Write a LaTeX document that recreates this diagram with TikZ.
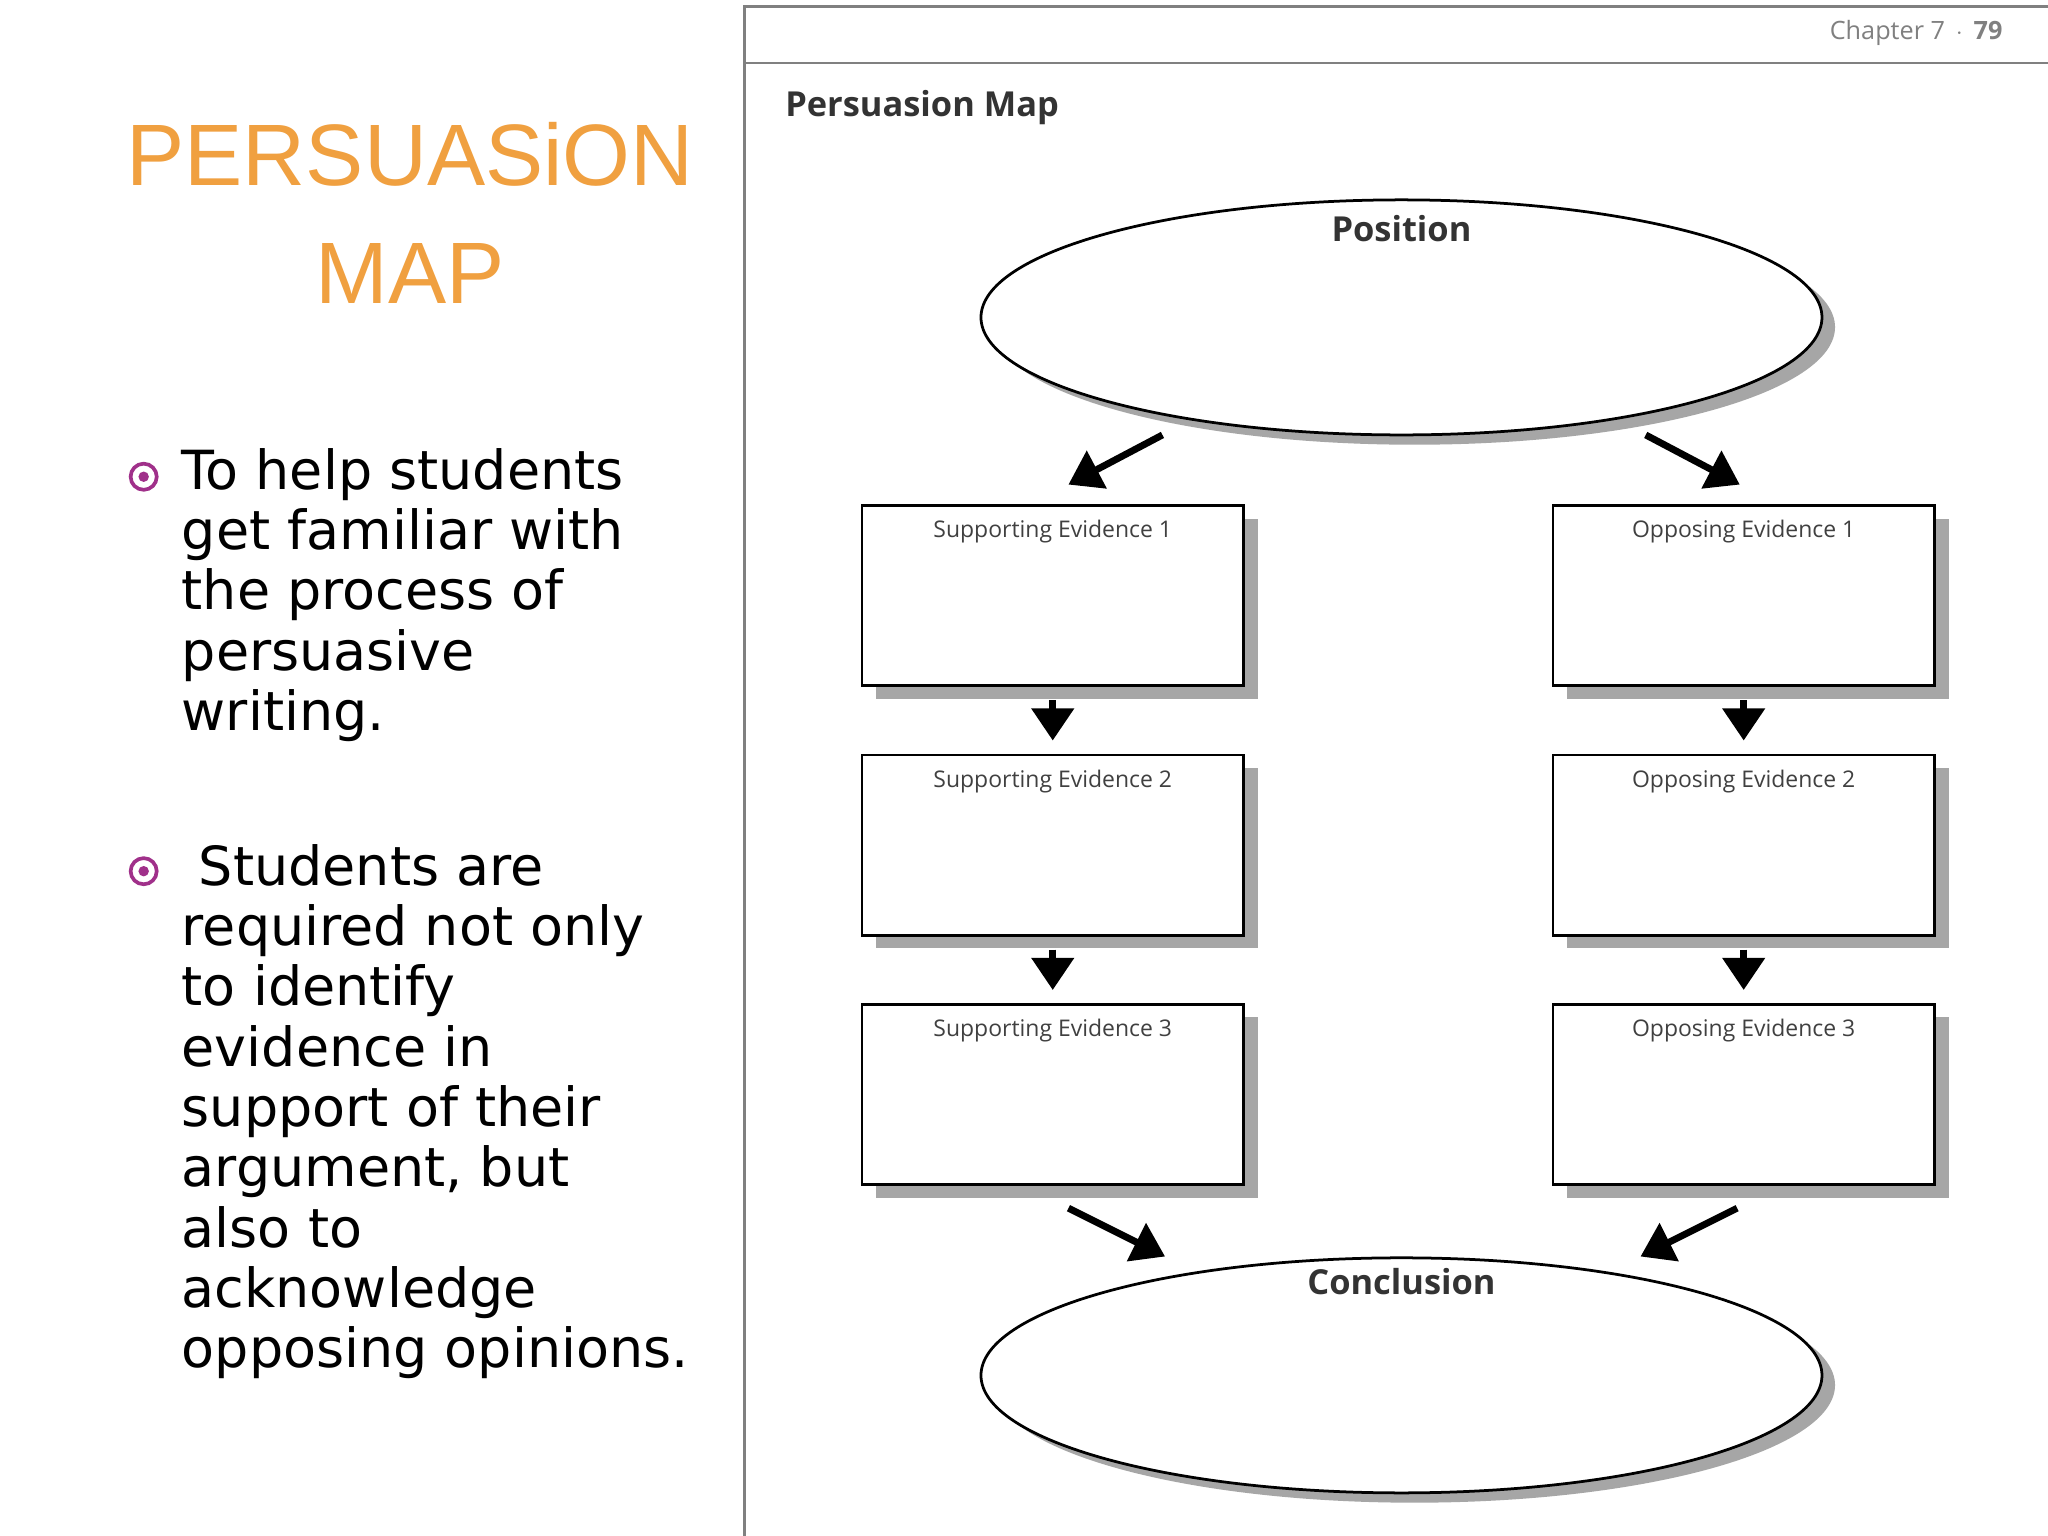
\documentclass[tikz,border=0pt]{standalone}
\usepackage{fontspec}
\setmainfont{DejaVu Sans}
\newfontfamily\titlefont{Liberation Sans}
\newfontfamily\mapfont{Open Sans}
\usetikzlibrary{arrows.meta,shadows,shapes.geometric}
\definecolor{bulletc}{HTML}{A0308A}
\definecolor{titleo}{HTML}{F0A040}
\begin{document}
\begin{tikzpicture}[x=0.02cm,y=-0.02cm,
  ev/.style={draw,line width=1.2pt,fill=white,minimum width=5.84cm,minimum height=2.76cm,inner sep=0pt,
    drop shadow={shadow xshift=0.22cm,shadow yshift=-0.2cm,fill=gray!70,opacity=1}},
  evlabel/.style={font=\mapfont\fontsize{10}{12}\selectfont,text=black!75},
  ell/.style={draw,line width=1.2pt,fill=white,ellipse,minimum width=12.88cm,minimum height=3.6cm,
    drop shadow={shadow xshift=0.2cm,shadow yshift=-0.15cm,fill=gray!70,opacity=1}},
  arr/.style={line width=3pt,-{Triangle[length=14pt,width=18pt]}},
  btext/.style={anchor=north west,align=left,font=\fontsize{23.5}{26.3}\selectfont},
  bul/.style={circle,draw=bulletc,line width=1.6pt,minimum size=0.4cm,inner sep=0pt,fill=white,
    path picture={\fill[bulletc] (path picture bounding box.center) circle (0.08cm);}}]
\useasboundingbox (0,0) rectangle (1568,1176);
\fill[white] (0,0) rectangle (1568,1176);
% title
\node[font=\titlefont\fontsize{38}{51}\selectfont,text=titleo,draw=none,align=center] (title) at (314,163) {PERSUAS\textsc{i}ON\\MAP};
% bullets
\node[bul] (b1) at (110,365) {};
\node[btext] (t1) at (133,337) {To help students\\get familiar with\\the process of\\persuasive\\writing.};
\node[bul] (b2) at (110,667) {};
\node[btext] (t2) at (133,640) {\ Students are\\required not only\\to identify\\evidence in\\support of their\\argument, but\\also to\\acknowledge\\opposing opinions.};
% panel
\draw[gray,line width=1pt] (570,1176) -- (570,5) -- (1568,5);
\draw[gray,line width=1pt] (570,48) -- (1568,48);
\node[font=\mapfont\fontsize{11}{13}\selectfont,text=gray] (chap) at (1467,25) {Chapter 7 \,$\cdot$\, \textbf{79}};
\node[font=\mapfont\bfseries\fontsize{15}{18}\selectfont,text=black!80,anchor=west] (pm) at (595,82) {Persuasion Map};
% ellipses
\node[ell] (pos) at (1073,243) {};
\node[font=\mapfont\bfseries\fontsize{15}{18}\selectfont,text=black!80] (posl) at (1073,175) {Position};
\node[ell] (con) at (1073,1053) {};
\node[font=\mapfont\bfseries\fontsize{15}{18}\selectfont,text=black!80] (conl) at (1073,981) {Conclusion};
% boxes
\foreach \n/\y/\k in {1/456/1,2/647/2,3/838/3}{
  \node[ev] (s\n) at (806,\y) {};
  \node[evlabel] at (806,\y-49) {Supporting Evidence \k};
  \node[ev] (o\n) at (1335,\y) {};
  \node[evlabel] at (1335,\y-49) {Opposing Evidence \k};
}
% arrows
\coordinate (p1) at (890,333); \coordinate (p2) at (818,371);
\coordinate (p3) at (1260,333); \coordinate (p4) at (1332,371);
\draw[arr] (p1) -- (p2);
\draw[arr] (p3) -- (p4);
\draw[arr] ([yshift=-0.2cm]s1.south) -- ([yshift=0.2cm]s2.north);
\draw[arr] ([yshift=-0.2cm]s2.south) -- ([yshift=0.2cm]s3.north);
\draw[arr] ([yshift=-0.2cm]o1.south) -- ([yshift=0.2cm]o2.north);
\draw[arr] ([yshift=-0.2cm]o2.south) -- ([yshift=0.2cm]o3.north);
\coordinate (q1) at (818,925); \coordinate (q2) at (892,962);
\coordinate (q3) at (1330,925); \coordinate (q4) at (1256,962);
\draw[arr] (q1) -- (q2);
\draw[arr] (q3) -- (q4);
\end{tikzpicture}
\end{document}
